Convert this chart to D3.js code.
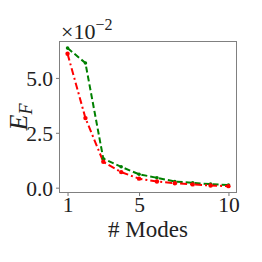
<!DOCTYPE html>
<html><head><meta charset="utf-8">
<script src="https://cdn.jsdelivr.net/npm/d3@7"></script>
<style>body{margin:0;background:#fff}svg{display:block}</style>
</head><body>
<script>
const modes = [1,2,3,4,5,6,7,8,9,10];
const greenVals = [6.36,5.68,1.32,0.95,0.61,0.45,0.28,0.22,0.16,0.12];
const redVals = [6.10,3.17,1.18,0.71,0.41,0.28,0.20,0.15,0.10,0.07];
const xTicks = [1,5,10];
const yTicks = [0,2.5,5.0];

const W=262,H=262;
const m={l:59.5,r:236.5,t:41.5,b:192.5};
const svg=d3.select("body").append("svg").attr("width",W).attr("height",H);
const font="Liberation Serif";
const x=d3.scaleLinear().domain([0.55,10.45]).range([m.l,m.r]);
const y=d3.scaleLinear().domain([-0.22,6.66]).range([m.b,m.t]);

const xa=svg.append("g").attr("transform",`translate(0,${m.b})`)
 .call(d3.axisBottom(x).tickValues(xTicks).tickSize(3.5).tickPadding(1).tickFormat(d3.format("d")));
const ya=svg.append("g").attr("transform",`translate(${m.l},0)`)
 .call(d3.axisLeft(y).tickValues(yTicks).tickSize(3.5).tickPadding(3).tickFormat(d3.format(".1f")));
[xa,ya].forEach(a=>{a.select(".domain").remove();a.selectAll("line").attr("stroke","#555").attr("stroke-width",0.8);
 a.selectAll("text").style("font-family",font).style("font-size","21.5px").attr("fill","#222");});
xa.selectAll("text").attr("dy","0.68em");
ya.selectAll("text").attr("dy","0.35em");

svg.append("rect").attr("x",m.l).attr("y",m.t).attr("width",m.r-m.l).attr("height",m.b-m.t)
 .attr("fill","none").attr("stroke","#808080").attr("stroke-width",1);

const line=d3.line().x((d,i)=>x(modes[i])).y(d=>y(d));
svg.append("path").datum(greenVals).attr("d",line).attr("fill","none").attr("stroke","#008000")
 .attr("stroke-width",2).attr("stroke-dasharray","6,3");
svg.append("path").datum(redVals).attr("d",line).attr("fill","none").attr("stroke","#ff0000")
 .attr("stroke-width",2).attr("stroke-dasharray","7,3,2,3");
svg.selectAll(".gm").data(greenVals).enter().append("circle").attr("cx",(d,i)=>x(modes[i])).attr("cy",d=>y(d)).attr("r",1.8).attr("fill","#008000");
svg.selectAll(".rm").data(redVals).enter().append("circle").attr("cx",(d,i)=>x(modes[i])).attr("cy",d=>y(d)).attr("r",2.2).attr("fill","#ff0000");

svg.append("text").attr("x",148).attr("y",237).attr("text-anchor","middle").style("font-family",font)
 .style("font-size","23px").attr("fill","#222").text("# Modes");
const yl=svg.append("text").attr("transform","translate(27,117) rotate(-90)").attr("text-anchor","middle")
 .style("font-family",font).style("font-size","26px").attr("fill","#222");
yl.append("tspan").attr("font-style","italic").text("E");
yl.append("tspan").attr("font-style","italic").style("font-size","18px").attr("dy",5).text("F");
const ex=svg.append("text").attr("x",61).attr("y",39).style("font-family",font).style("font-size","22px").attr("fill","#222");
ex.append("tspan").text("×10");
ex.append("tspan").style("font-size","16px").attr("dy",-9).text("−2");
</script>
</body></html>
